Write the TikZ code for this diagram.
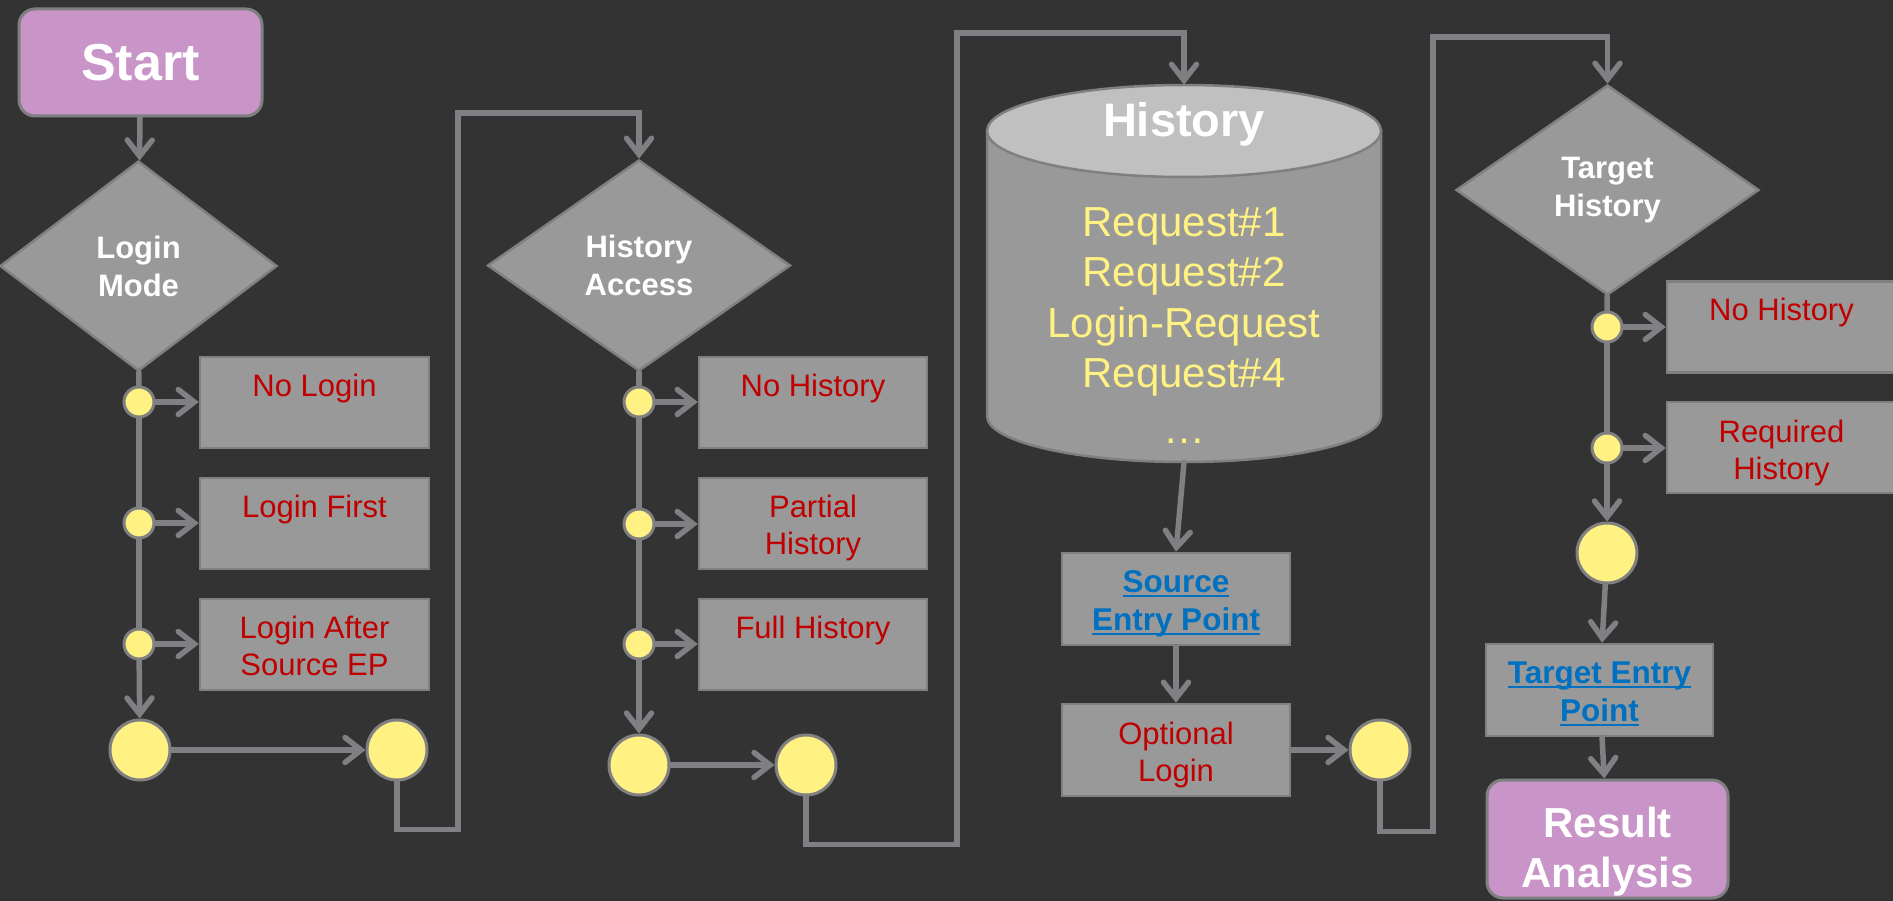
\documentclass[tikz,border=0pt]{standalone}
\usepackage{fontspec}
\setmainfont{Liberation Sans}
\usetikzlibrary{shapes.geometric,arrows.meta}

\definecolor{bg}{HTML}{333333}
\definecolor{boxfill}{HTML}{999999}
\definecolor{edge}{HTML}{808080}
\definecolor{wire}{HTML}{7F7F84}
\definecolor{optred}{HTML}{C00000}
\definecolor{linkblue}{HTML}{0070C0}
\definecolor{dot}{HTML}{FFF282}
\definecolor{terminal}{HTML}{C994C7}
\definecolor{cyltop}{HTML}{C0C0C0}

% hyperlink-style underline at a fixed depth below the baseline
\newcommand{\linkul}[1]{\setbox0\hbox{#1}\rlap{\rule[-4.5pt]{\wd0}{2.4pt}}\box0}

\tikzset{
  wireline/.style={draw=wire, line width=5.5pt, line cap=round, line join=miter},
  arr/.style={wireline, -{Straight Barb[length=16pt,width=25pt,line cap=round]}},
  termbox/.style={rectangle, rounded corners=16pt, fill=terminal, draw=edge, line width=3pt,
    text=white, inner sep=0pt, align=center},
  decision/.style={diamond, fill=boxfill, draw=edge, line width=2.5pt, inner sep=0pt,
    text=white, align=center, font=\bfseries\fontsize{31}{38}\selectfont},
  optbox/.style={rectangle, fill=boxfill, draw=edge, line width=2.5pt, inner sep=0pt,
    minimum width=229pt, minimum height=91pt},
  opttext/.style={anchor=north, inner sep=0pt, align=center, text=optred,
    font=\fontsize{31}{37.5}\selectfont},
  linktext/.style={anchor=north, inner sep=0pt, align=center, text=linkblue,
    font=\bfseries\fontsize{31.5}{38}\selectfont},
  smalldot/.style={circle, fill=dot, draw=edge, line width=3pt, inner sep=0pt, minimum size=30pt},
  bigdot/.style={circle, fill=dot, draw=edge, line width=3pt, inner sep=0pt, minimum size=60pt},
}

\begin{document}
\begin{tikzpicture}[x=1pt,y=-1pt]
\useasboundingbox (0,0) rectangle (1893,901);
\fill[bg] (0,0) rectangle (1893,901);

% ---------- Login mode ----------
\node[termbox, minimum width=243pt, minimum height=107pt,
      font=\bfseries\fontsize{52}{60}\selectfont] (start) at (140.5,62.5) {Start};
\node[decision, minimum width=277pt, minimum height=210pt] (login) at (138.5,266) {Login\\Mode};

\node[smalldot] (la1) at (139,402) {};
\node[smalldot] (la2) at (139,523) {};
\node[smalldot] (la3) at (139,644) {};
\node[bigdot] (lj1) at (140,750) {};
\node[bigdot] (lj2) at (397,750) {};

\node[optbox] (lb1) at (314.5,402.5) {};
\node[optbox] (lb2) at (314.5,523.5) {};
\node[optbox] (lb3) at (314.5,644.5) {};
\node[opttext] (lt1) at ([yshift=-18pt]lb1.north) {No Login};
\node[opttext] (lt2) at ([yshift=-18pt]lb2.north) {Login First};
\node[opttext] (lt3) at ([yshift=-18pt]lb3.north) {Login After\\Source EP};

\draw[arr] (start) -- (login);
\draw[wireline] (login) -- (la1);
\draw[wireline] (la1) -- (la2);
\draw[wireline] (la2) -- (la3);
\draw[arr] (la3) -- (lj1);
\draw[arr] (la1) -- (la1 -| lb1.west);
\draw[arr] (la2) -- (la2 -| lb2.west);
\draw[arr] (la3) -- (la3 -| lb3.west);
\draw[arr] (lj1) -- (lj2);

% ---------- History access ----------
\node[decision, minimum width=303pt, minimum height=211pt] (access) at (639,265.5) {History\\Access};

\node[smalldot] (ma1) at (639,402) {};
\node[smalldot] (ma2) at (639,524) {};
\node[smalldot] (ma3) at (639,644) {};
\node[bigdot] (mj1) at (639,765) {};
\node[bigdot] (mj2) at (806,765) {};

\node[optbox, minimum width=228pt] (mb1) at (813,402.5) {};
\node[optbox, minimum width=228pt] (mb2) at (813,523.5) {};
\node[optbox, minimum width=228pt] (mb3) at (813,644.5) {};
\node[opttext] (mt1) at ([yshift=-18pt]mb1.north) {No History};
\node[opttext] (mt2) at ([yshift=-18pt]mb2.north) {Partial\\History};
\node[opttext] (mt3) at ([yshift=-18pt]mb3.north) {Full History};

\draw[arr] (lj2.south) -- ++(0,48) -| (458,113) -| (access.north);
\draw[wireline] (access) -- (ma1);
\draw[wireline] (ma1) -- (ma2);
\draw[wireline] (ma2) -- (ma3);
\draw[arr] (ma3) -- (mj1);
\draw[arr] (ma1) -- (ma1 -| mb1.west);
\draw[arr] (ma2) -- (ma2 -| mb2.west);
\draw[arr] (ma3) -- (ma3 -| mb3.west);
\draw[arr] (mj1) -- (mj2);

% ---------- History store ----------
\node[rectangle, inner sep=0pt, minimum width=394pt, minimum height=377pt] (hist) at (1184,273.5) {};
\path[fill=boxfill, draw=edge, line width=2.5pt]
  (987,131) -- (987,416) arc[start angle=180, end angle=0, x radius=197, y radius=46]
  -- (1381,131) -- cycle;
\path[fill=cyltop, draw=edge, line width=2.5pt] (1184,131) ellipse[x radius=197, y radius=46];
\node[anchor=base, inner sep=0pt, text=white, font=\bfseries\fontsize{47}{55}\selectfont]
  (histtitle) at (1184,137) {History};
\node[anchor=north, inner sep=0pt, align=center, text=dot, font=\fontsize{42}{50.5}\selectfont]
  (histitems) at (1184,207) {Request\#1\\Request\#2\\Login-Request\\Request\#4};
\node[anchor=base, inner sep=0pt, text=dot, font=\fontsize{42}{50}\selectfont]
  (histmore) at (1184,443) {…};

\node[optbox, minimum width=228pt, minimum height=92pt] (sep) at (1176,599) {};
\node[linktext] (septext) at ([yshift=-19pt]sep.north) {\linkul{Source}\\\linkul{Entry Point}};
\node[optbox, minimum width=228pt, minimum height=92pt] (optlogin) at (1176,750) {};
\node[opttext] (optlogintext) at ([yshift=-19pt]optlogin.north) {Optional\\Login};
\node[bigdot] (cj) at (1380,750) {};

\draw[arr] (mj2.south) -- ++(0,48) -| (957,33) -| (hist.north);
\draw[arr] (hist.south) -- (sep.north);
\draw[arr] (sep) -- (optlogin);
\draw[arr] (optlogin) -- (cj);

% ---------- Target history ----------
\node[decision, minimum width=303pt, minimum height=210pt] (target) at (1607.5,190) {Target\\History};

\node[smalldot] (ta1) at (1607,327) {};
\node[smalldot] (ta2) at (1607,448) {};
\node[bigdot] (tj) at (1607,553) {};

\node[optbox] (tb1) at (1781.5,327) {};
\node[optbox] (tb2) at (1781.5,447.5) {};
\node[opttext] (tt1) at ([yshift=-18pt]tb1.north) {No History};
\node[opttext] (tt2) at ([yshift=-19pt]tb2.north) {Required\\History};

\node[optbox, minimum width=227pt, minimum height=92pt] (tep) at (1599.5,690) {};
\node[linktext] (teptext) at ([yshift=-19pt]tep.north) {\linkul{Target Entry}\\\linkul{Point}};

\node[termbox, minimum width=241pt, minimum height=118pt] (result) at (1607.5,839) {};
\node[anchor=north, inner sep=0pt, align=center, text=white,
      font=\bfseries\fontsize{42}{50}\selectfont] (resulttext) at (1607.5,807) {Result\\Analysis};

\draw[arr] (cj.south) -- ++(0,50) -| (1433,37) -| (target.north);
\draw[wireline] (target) -- (ta1);
\draw[wireline] (ta1) -- (ta2);
\draw[arr] (ta2) -- (tj);
\draw[arr] (ta1) -- (ta1 -| tb1.west);
\draw[arr] (ta2) -- (ta2 -| tb2.west);
\draw[arr] (tj) -- (tep);
\draw[arr] (tep) -- (result);
\end{tikzpicture}
\end{document}
